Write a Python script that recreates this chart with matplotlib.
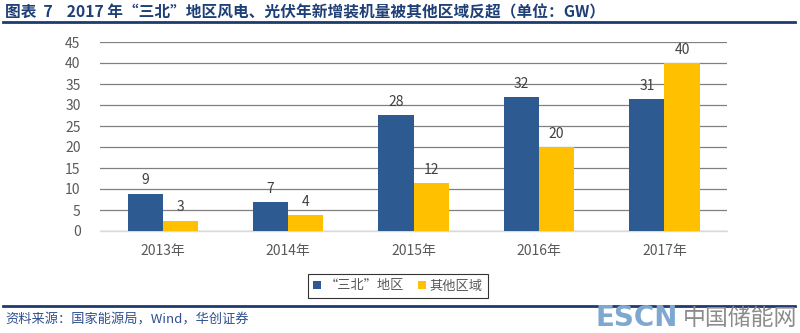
import matplotlib
matplotlib.use("Agg")
import matplotlib.pyplot as plt
import numpy as np

plt.rcParams['font.family'] = ['Noto Sans CJK SC', 'DejaVu Sans']

categories = ["2013年", "2014年", "2015年", "2016年", "2017年"]
north = [8.9, 6.9, 27.6, 31.9, 31.4]
other = [2.5, 3.7, 11.4, 20.0, 40.0]
north_labels = ["9", "7", "28", "32", "31"]
other_labels = ["3", "4", "12", "20", "40"]
series_names = ["“三北”地区", "其他区域"]
yticks = [0, 5, 10, 15, 20, 25, 30, 35, 40, 45]

title = "图表  7    2017 年“三北”地区风电、光伏年新增装机量被其他区域反超（单位：GW）"
source = "资料来源：国家能源局，Wind，华创证券"

c_blue = "#2E5A92"
c_gold = "#FFC000"
c_text = "#595959"

fig = plt.figure(figsize=(8, 3.33), dpi=100)
ax = fig.add_axes([0.125, 1 - 231/333, 0.784, (231 - 42)/333])

x = np.arange(len(categories))
w = 0.28
b1 = ax.bar(x - w/2, north, width=w, color=c_blue, label=series_names[0], zorder=3)
b2 = ax.bar(x + w/2, other, width=w, color=c_gold, label=series_names[1], zorder=3)

for rect, lab in zip(b1, north_labels):
    ax.text(rect.get_x() + rect.get_width()/2, rect.get_height() + 1.5, lab,
            ha='center', va='bottom', fontsize=10, color='#404040')
for rect, lab in zip(b2, other_labels):
    ax.text(rect.get_x() + rect.get_width()/2, rect.get_height() + 1.5, lab,
            ha='center', va='bottom', fontsize=10, color='#404040')

ax.set_xlim(-0.5, len(categories) - 0.5)
ax.set_ylim(0, 45)
ax.set_yticks(yticks)
ax.set_xticks(x)
ax.set_xticklabels(categories)
ax.tick_params(axis='both', length=0, labelsize=10, colors=c_text)
ax.tick_params(axis='y', pad=14)
ax.tick_params(axis='x', pad=9)
ax.yaxis.grid(True, color='#808080', linewidth=0.9, zorder=0)
ax.set_axisbelow(True)
for s in ['top', 'right', 'left']:
    ax.spines[s].set_visible(False)
ax.spines['bottom'].set_color('#D9D9D9')
ax.spines['bottom'].set_linewidth(1.0)

leg = ax.legend(loc='center', bbox_to_anchor=(398/800, 1 - 286/333),
                bbox_transform=fig.transFigure, ncol=2, frameon=True,
                fontsize=9.5, handlelength=0.6, handleheight=0.6,
                handletextpad=0.3, columnspacing=1.0, fancybox=False,
                borderpad=0.4)
leg.get_frame().set_edgecolor('#000000')
leg.get_frame().set_linewidth(0.8)
for t in leg.get_texts():
    t.set_color(c_text)

fig.text(5/800, 1 - 12/333, title, fontsize=11.3, fontweight='bold',
         color='#1F3F77', ha='left', va='center')
fig.add_artist(plt.Line2D([3/800, 795/800], [1 - 22/333, 1 - 22/333],
                          color='#1F3A6E', linewidth=2.0))
fig.add_artist(plt.Line2D([3/800, 795/800], [1 - 306/333, 1 - 306/333],
                          color='#1F3A6E', linewidth=2.0))
fig.text(5/800, 1 - 320/333, source, fontsize=9.5, color='#2F4F8F',
         ha='left', va='center', style='italic')
fig.text(595/800, 1 - 318/333, "ESCN", fontsize=20, fontweight='bold',
         color='#7FA8D0', ha='left', va='center', family='DejaVu Sans')
fig.text(683/800, 1 - 318/333, "中国储能网", fontsize=16.5,
         color='#8C8C8C', ha='left', va='center')

fig.savefig("out.png", dpi=100)
